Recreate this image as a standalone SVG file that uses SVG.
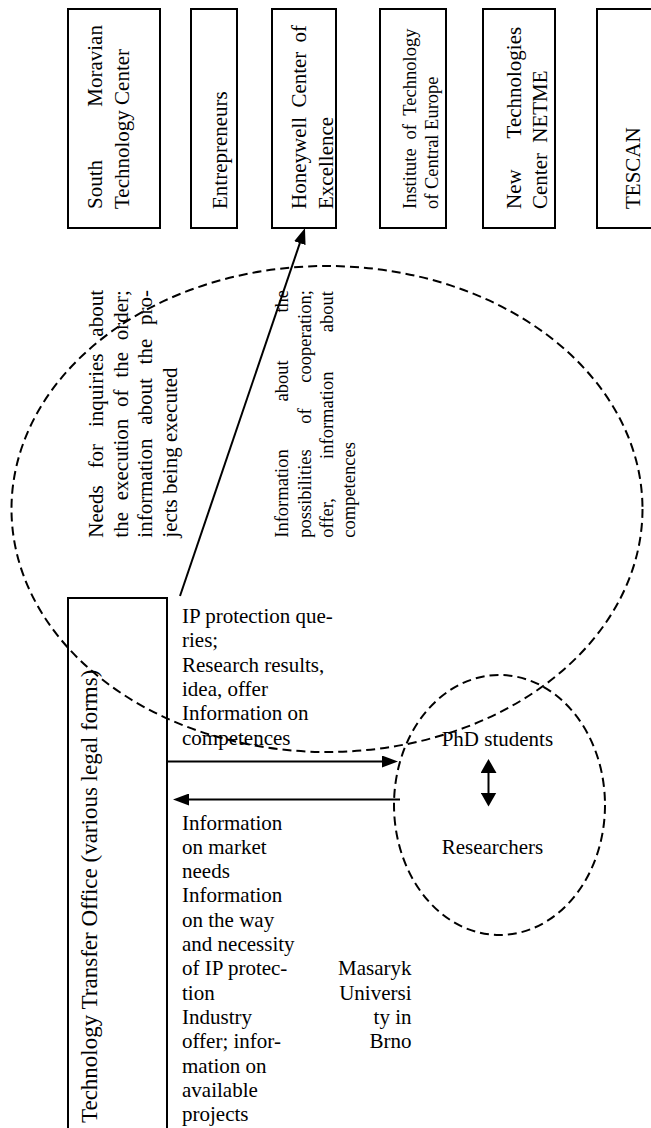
<svg xmlns="http://www.w3.org/2000/svg" width="651" height="1128" viewBox="0 0 651 1128">
<style>
text{font-family:"Liberation Serif","Times New Roman",serif;font-size:21px;fill:#000}
.s{font-size:18.5px}
.box{fill:none;stroke:#000;stroke-width:2}
.dash{fill:none;stroke:#000;stroke-width:2;stroke-dasharray:9 5}
.ln{fill:none;stroke:#000;stroke-width:2}
</style>
<defs>
<marker id="ah" viewBox="0 0 16 12" refX="10" refY="6" markerWidth="16" markerHeight="12" markerUnits="userSpaceOnUse" orient="auto"><path d="M0,0 L16,6 L0,12 z" fill="#000"/></marker>
<marker id="ah2" viewBox="0 0 14 16" refX="8" refY="8" markerWidth="14" markerHeight="16" markerUnits="userSpaceOnUse" orient="auto-start-reverse"><path d="M0,0 L14,8 L0,16 z" fill="#000"/></marker>
</defs>
<rect width="651" height="1128" fill="#fff"/>

<g id="south-moravian">
<rect class="box" x="68" y="9" width="92" height="219"/>
<text transform="translate(102,209) rotate(-90)" word-spacing="48px">South Moravian</text>
<text transform="translate(129,209) rotate(-90)">Technology Center</text>
</g>
<g id="entrepreneurs">
<rect class="box" x="191" y="9" width="46" height="219"/>
<text transform="translate(227,209) rotate(-90)">Entrepreneurs</text>
</g>
<g id="honeywell">
<rect class="box" x="272" y="9" width="64" height="219"/>
<text transform="translate(306,209) rotate(-90)" word-spacing="4px">Honeywell Center of</text>
<text transform="translate(333,209) rotate(-90)">Excellence</text>
</g>
<g id="ceitec">
<rect class="box" x="380" y="9" width="66" height="219"/>
<text class="s" transform="translate(415.5,209) rotate(-90)" word-spacing="4.2px">Institute of Technology</text>
<text class="s" transform="translate(438,209) rotate(-90)">of Central Europe</text>
</g>
<g id="netme">
<rect class="box" x="483" y="9" width="72" height="219"/>
<text transform="translate(521,209) rotate(-90)" word-spacing="26px">New Technologies</text>
<text transform="translate(547,209) rotate(-90)" word-spacing="5px">Center NETME</text>
</g>
<g id="tescan">
<rect class="box" x="597" y="9" width="80" height="219"/>
<text transform="translate(640,209) rotate(-90)">TESCAN</text>
</g>

<g id="companies-ellipse">
<ellipse class="dash" cx="327" cy="509" rx="315.5" ry="243"/>
<text transform="translate(103,537.7) rotate(-90)" word-spacing="11.6px">Needs for inquiries about</text>
<text transform="translate(127.5,537.7) rotate(-90)" word-spacing="6.5px">the execution of the order;</text>
<text transform="translate(152,537.7) rotate(-90)" word-spacing="8.5px">information about the pro-</text>
<text transform="translate(176.5,537.7) rotate(-90)">jects being executed</text>
<text class="s" transform="translate(288.3,537.7) rotate(-90)" word-spacing="43.2px">Information about the</text>
<text class="s" transform="translate(310.6,537.7) rotate(-90)" word-spacing="21px">possibilities of cooperation;</text>
<text class="s" transform="translate(332.9,537.7) rotate(-90)" word-spacing="34.7px">offer, information about</text>
<text class="s" transform="translate(355.2,537.7) rotate(-90)">competences</text>
</g>

<g id="tto">
<rect class="box" x="68" y="598" width="99" height="545"/>
<text transform="translate(96.5,1123) rotate(-90)" style="font-size:23px">Technology Transfer Office (various legal forms)</text>
</g>

<g id="university">
<ellipse class="dash" cx="499.5" cy="805" rx="105.5" ry="130"/>
<text x="441.7" y="745.7">PhD students</text>
<text x="441.7" y="854">Researchers</text>
</g>

<g id="labels">
<text x="182" y="623">IP protection que-</text>
<text x="182" y="647.3">ries;</text>
<text x="182" y="671.6">Research results,</text>
<text x="182" y="695.9">idea, offer</text>
<text x="182" y="720.2">Information on</text>
<text x="182" y="744.5">competences</text>
<text x="182" y="829.5">Information</text>
<text x="182" y="853.8">on market</text>
<text x="182" y="878.1">needs</text>
<text x="182" y="902.4">Information</text>
<text x="182" y="926.7">on the way</text>
<text x="182" y="951">and necessity</text>
<text x="182" y="975.3">of IP protec-</text>
<text x="182" y="999.6">tion</text>
<text x="182" y="1023.9">Industry</text>
<text x="182" y="1048.2">offer; infor-</text>
<text x="182" y="1072.5">mation on</text>
<text x="182" y="1096.8">available</text>
<text x="182" y="1121.1">projects</text>
<g text-anchor="end">
<text x="411.5" y="975.3">Masaryk</text>
<text x="411.5" y="999.6">Universi</text>
<text x="411.5" y="1023.9">ty in</text>
<text x="411.5" y="1048.2">Brno</text>
</g>
</g>

<g id="connectors">
<line class="ln" x1="180" y1="596" x2="303.07" y2="233.68" marker-end="url(#ah)"/>
<line class="ln" x1="167" y1="761.5" x2="392" y2="761.5" marker-end="url(#ah)"/>
<line class="ln" x1="400" y1="799.5" x2="179" y2="799.5" marker-end="url(#ah)"/>
<line class="ln" x1="488.5" y1="765" x2="488.5" y2="800.5" marker-start="url(#ah2)" marker-end="url(#ah2)"/>
</g>
</svg>
